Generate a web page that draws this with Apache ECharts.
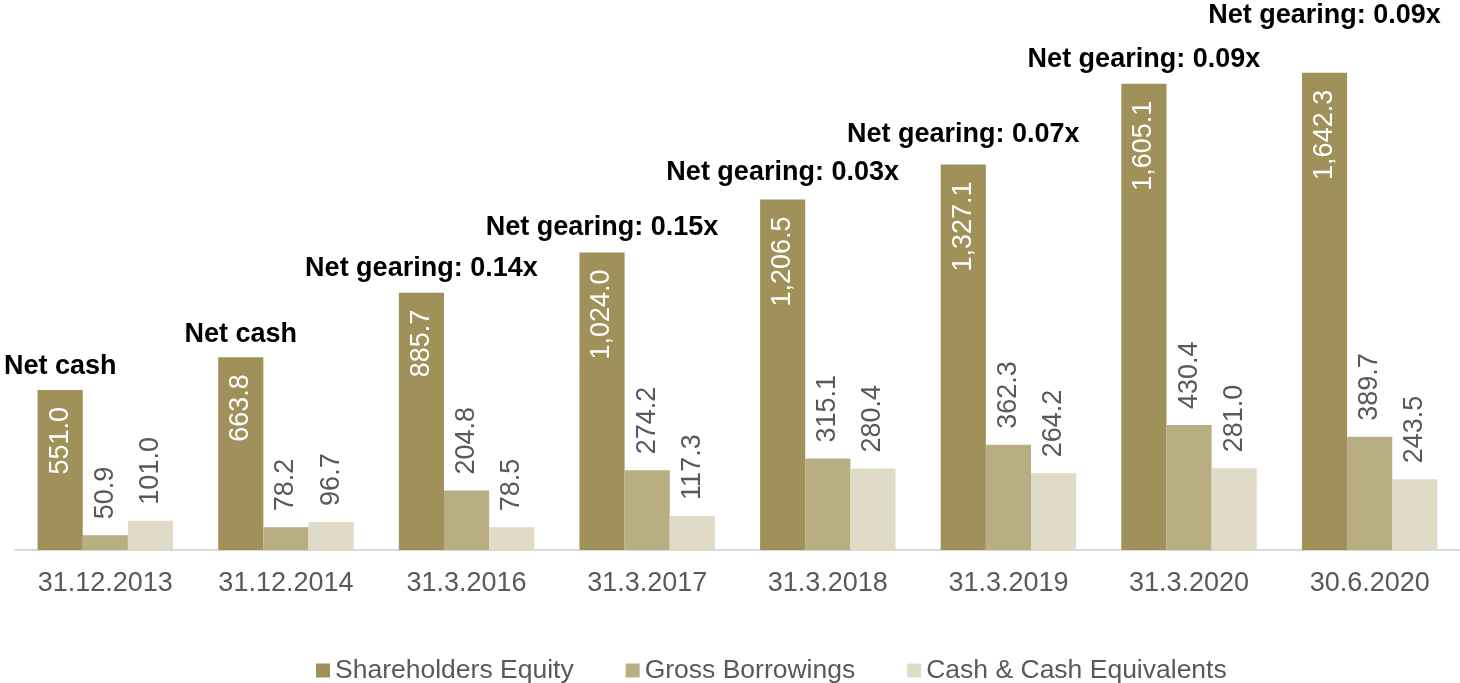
<!DOCTYPE html>
<html>
<head>
<meta charset="utf-8">
<script src="https://cdn.jsdelivr.net/npm/echarts@6/dist/echarts.min.js"></script>
<style>html,body{margin:0;padding:0;background:#fff}#c{width:1460px;height:683px}</style>
</head>
<body>
<div id="c"></div>
<script>
const categories = ['31.12.2013','31.12.2014','31.3.2016','31.3.2017','31.3.2018','31.3.2019','31.3.2020','30.6.2020'];
const equity = [551.0, 663.8, 885.7, 1024.0, 1206.5, 1327.1, 1605.1, 1642.3];
const borrowings = [50.9, 78.2, 204.8, 274.2, 315.1, 362.3, 430.4, 389.7];
const cash = [101.0, 96.7, 78.5, 117.3, 280.4, 264.2, 281.0, 243.5];
const gearing = ['Net cash','Net cash','Net gearing: 0.14x','Net gearing: 0.15x','Net gearing: 0.03x','Net gearing: 0.07x','Net gearing: 0.09x','Net gearing: 0.09x'];

const FONT = 'Liberation Sans, Arial, sans-serif';
const FS = 27;
const fmt = v => v.toLocaleString('en-US', {minimumFractionDigits:1, maximumFractionDigits:1});
const catGap = 0.25;
const labelLift = [23,23,24,25,27,30,24,57];

const outsideLabel = {
  show: true, position: 'top', rotate: 90, align: 'left', verticalAlign: 'middle',
  distance: 16, color: '#595959', fontSize: FS, fontFamily: FONT,
  formatter: p => fmt(p.value)
};

const chart = echarts.init(document.getElementById('c'));
chart.setOption({
  animation: false,
  grid: {left: 15, right: 0, top: 27, bottom: 133},
  legend: {
    data: ['Shareholders Equity','Gross Borrowings','Cash & Cash Equivalents'],
    top: 652, left: 311,
    itemWidth: 14, itemHeight: 14, itemGap: 52, icon: 'rect',
    textStyle: {color: '#595959', fontSize: 26.5, fontFamily: FONT, padding: [0,0,0,0]}
  },
  xAxis: {
    type: 'category', data: categories,
    axisLine: {lineStyle: {color: '#D9D9D9', width: 2}},
    axisTick: {show: false},
    axisLabel: {color: '#595959', fontSize: FS, fontFamily: FONT, margin: 20}
  },
  yAxis: {type: 'value', min: 0, max: 1800, show: false, splitLine: {show: false}},
  series: [
    {
      name: 'Shareholders Equity', type: 'bar', data: equity,
      barGap: '0%', barCategoryGap: (catGap*100)+'%',
      itemStyle: {color: '#A0915A'},
      label: {show: true, position: 'insideTop', rotate: 90, align: 'right', verticalAlign: 'middle',
        distance: 17, color: '#FFFFFF', fontSize: FS, fontFamily: FONT, formatter: p => fmt(p.value)}
    },
    {
      name: 'Gross Borrowings', type: 'bar', data: borrowings,
      itemStyle: {color: '#B8AE82'}, label: outsideLabel
    },
    {
      name: 'Cash & Cash Equivalents', type: 'bar', data: cash,
      itemStyle: {color: '#E0DBC6'}, label: outsideLabel
    },
    {
      type: 'custom', silent: true, clip: false,
      data: equity.map((v, i) => [i, v]),
      renderItem: (params, api) => {
        const i = api.value(0);
        const pt = api.coord([i, api.value(1)]);
        const band = api.size([1, 0])[0];
        const bw = band * (1 - catGap) / 3;
        return {
          type: 'text',
          style: {
            text: gearing[i], x: pt[0] - bw, y: pt[1] - labelLift[i],
            align: 'center', verticalAlign: 'middle',
            fill: '#000000', font: 'bold ' + FS + 'px ' + FONT
          }
        };
      }
    }
  ]
});
</script>
</body>
</html>
